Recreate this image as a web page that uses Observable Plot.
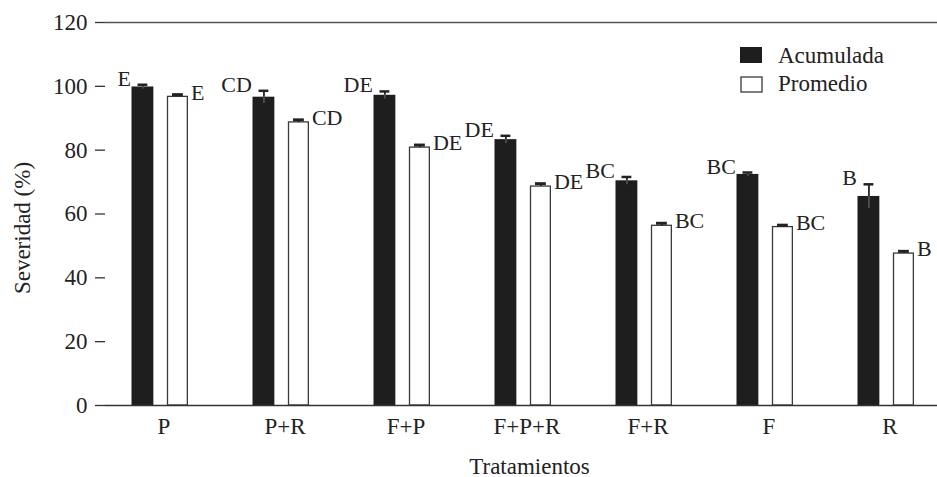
<!DOCTYPE html>
<html>
<head>
<meta charset="utf-8">
<script src="https://cdn.jsdelivr.net/npm/d3@7"></script>
<script src="https://cdn.jsdelivr.net/npm/@observablehq/plot@0.6"></script>
<style>
  html, body { margin: 0; padding: 0; background: #fff; }
  #chart { width: 937px; height: 477px; }
</style>
</head>
<body>
<div id="chart"></div>
<script>
const categories = ["P", "P+R", "F+P", "F+P+R", "F+R", "F", "R"];
const acumulada = [99.8, 96.6, 97.2, 83.3, 70.4, 72.4, 65.5];
const acumuladaErr = [0.7, 2.0, 1.2, 1.2, 1.2, 0.6, 3.8];
const promedio = [96.7, 88.7, 80.8, 68.6, 56.3, 55.9, 47.6];
const promedioErr = [0.7, 0.8, 0.8, 0.9, 0.8, 0.6, 0.7];
const acumuladaLabels = ["E", "CD", "DE", "DE", "BC", "BC", "B"];
const promedioLabels = ["E", "CD", "DE", "DE", "BC", "BC", "B"];
const yTicks = [0, 20, 40, 60, 80, 100, 120];

const data = categories.map((c, i) => ({
  cat: c,
  acum: acumulada[i], acumErr: acumuladaErr[i], acumLab: acumuladaLabels[i],
  prom: promedio[i], promErr: promedioErr[i], promLab: promedioLabels[i]
}));

const FONT = "'Liberation Serif', 'Times New Roman', serif";
const step = (946.5 - 98.5) / categories.length;
const ink = "#222";

const chart = Plot.plot({
  width: 937,
  height: 477,
  marginTop: 22,
  marginBottom: 72,
  marginLeft: 105,
  marginRight: 0,
  style: { fontFamily: FONT, fontSize: "23px", color: ink, background: "#fff" },
  x: { type: "band", domain: categories, range: [98.5, 946.5], padding: 0 },
  y: { domain: [0, 120] },
  marks: [
    // bars
    Plot.barY(data, { x: "cat", y: "acum", fill: "#1e1e1e", insetLeft: 32.5, insetRight: step - 54.5 }),
    Plot.barY(data, { x: "cat", y: "prom", fill: "#fff", stroke: "#3a3a3a", strokeWidth: 1.3, insetLeft: 68.5, insetRight: step - 88.5 }),
    // error bars (lower half inside black bars shows as gray)
    Plot.ruleX(data, { x: "cat", y1: d => d.acum - d.acumErr, y2: "acum", dx: 43.5 - step / 2, stroke: "#5a5a5a", strokeWidth: 1.5 }),
    Plot.ruleX(data, { x: "cat", y1: "acum", y2: d => d.acum + d.acumErr, dx: 43.5 - step / 2, stroke: ink, strokeWidth: 1.8 }),
    Plot.ruleX(data, { x: "cat", y1: "prom", y2: d => d.prom + d.promErr, dx: 78.5 - step / 2, stroke: ink, strokeWidth: 1.8 }),
    Plot.tickY(data, { x: "cat", y: d => d.acum + d.acumErr, insetLeft: 38.5, insetRight: step - 48.5, stroke: ink, strokeWidth: 2.5 }),
    Plot.tickY(data, { x: "cat", y: d => d.prom + d.promErr, insetLeft: 73, insetRight: step - 84, stroke: ink, strokeWidth: 3 }),
    // letters
    Plot.text(data, { x: "cat", y: d => d.acum + d.acumErr, text: "acumLab", textAnchor: "end", lineAnchor: "bottom", dx: 31.5 - step / 2, dy: 1, fontSize: 22, fontFamily: FONT, fill: ink }),
    Plot.text(data, { x: "cat", y: d => d.prom + d.promErr, text: "promLab", textAnchor: "start", lineAnchor: "bottom", dx: 91.5 - step / 2, dy: 5, fontSize: 22, fontFamily: FONT, fill: ink }),
    // frame lines
    Plot.ruleY([120], { stroke: "#555", strokeWidth: 1.3 }),
    Plot.ruleY([0], { stroke: "#333", strokeWidth: 1.3 }),
    Plot.ruleX([0], { frameAnchor: "left", stroke: "#333", strokeWidth: 1.3 }),
    // axes
    Plot.axisY({ ticks: yTicks, tickSize: 10, tickPadding: 8, tickFormat: d => String(d), fontSize: 23, label: null, stroke: "#333", strokeWidth: 1.3 }),
    Plot.axisX({ tickSize: 0, tickPadding: 12, fontSize: 23, label: null, dx: 4 }),
    // axis titles
    Plot.text(["Tratamientos"], { frameAnchor: "bottom", lineAnchor: "bottom", dx: 8, dy: 68, fontSize: 23, fontFamily: FONT, fill: ink }),
    Plot.text(["Severidad (%)"], { frameAnchor: "left", rotate: -90, textAnchor: "middle", lineAnchor: "middle", dx: -83, dy: 14, fontSize: 23, fontFamily: FONT, fill: ink })
  ]
});

// legend (inside plot area, top right)
const svg = d3.select(chart);
const lg = svg.append("g")
  .attr("font-family", FONT)
  .attr("font-size", 23)
  .attr("text-anchor", "start")
  .attr("fill", ink);
lg.append("rect").attr("x", 740).attr("y", 47).attr("width", 22).attr("height", 16).attr("fill", "#1e1e1e");
lg.append("rect").attr("x", 741).attr("y", 77).attr("width", 21).attr("height", 15).attr("fill", "#fff").attr("stroke", "#3a3a3a").attr("stroke-width", 1.3);
lg.append("text").attr("x", 778).attr("y", 63).attr("text-anchor", "start").style("font-size", "23px").text("Acumulada");
lg.append("text").attr("x", 778).attr("y", 91).attr("text-anchor", "start").style("font-size", "23px").text("Promedio");

document.getElementById("chart").appendChild(chart);
</script>
</body>
</html>
